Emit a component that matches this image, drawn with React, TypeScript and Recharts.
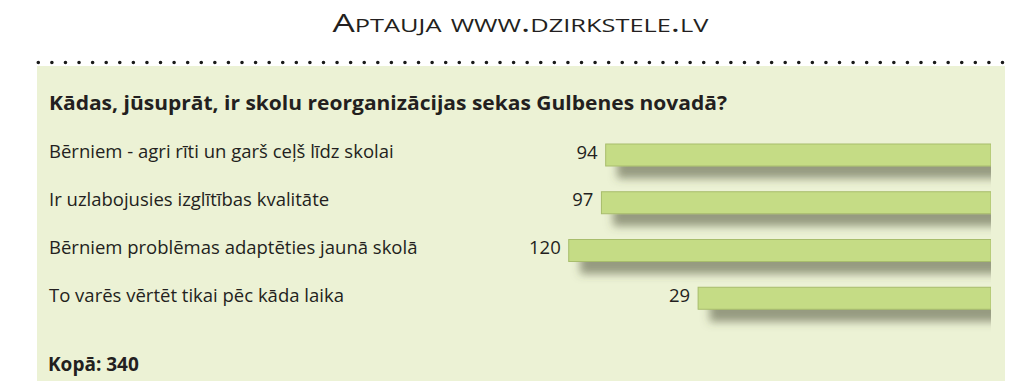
import React from "react";
import { BarChart, Bar, XAxis, YAxis, LabelList } from "recharts";

const title = "Aptauja www.dzirkstele.lv";
const question = "Kādas, jūsuprāt, ir skolu reorganizācijas sekas Gulbenes novadā?";
const categories = [
	"Bērniem - agri rīti un garš ceļš līdz skolai",
	"Ir uzlabojusies izglītības kvalitāte",
	"Bērniem problēmas adaptēties jaunā skolā",
	"To varēs vērtēt tikai pēc kāda laika",
];
const counts = [94, 97, 120, 29];
const totalLabel = "Kopā";
const total = 340;

// the printed bars don't start at zero, so the axis gets an offset base
const AXIS_BASE = -177;
const AXIS_MAX = 309;

const data = categories.map((name, i) => ({ name, count: counts[i] }));

const FONT = "'Open Sans', 'Noto Sans', sans-serif";

const CategoryTick = (props: any) => {
	const { y, payload } = props;
	return (
		<text x={49} y={y + 3.5} fill="#231f20" fontSize={18.5} fontFamily={FONT}>
			{payload.value}
		</text>
	);
};

const ValueLabel = (props: any) => {
	const { x, y, width, height, value } = props;
	const left = Math.min(x, x + width);
	return (
		<text
			x={left - 8}
			y={y + height / 2 + 3.5}
			textAnchor="end"
			fill="#231f20"
			fontSize={18.5}
			fontFamily={FONT}
		>
			{value}
		</text>
	);
};

const ShadowBar = (props: any) => {
	const { x, y, width, height, fill } = props;
	const left = Math.min(x, x + width);
	return (
		<rect
			x={left}
			y={y}
			width={Math.abs(width)}
			height={height}
			fill={fill}
			stroke="#a8bd6c"
			strokeWidth={1}
			filter="url(#barShadow)"
		/>
	);
};

export default function App() {
	return (
		<div
			style={{
				position: "absolute",
				left: 0,
				top: 0,
				width: 1024,
				height: 391,
				background: "#ffffff",
				overflow: "hidden",
			}}
		>
			<svg width={0} height={0} style={{ position: "absolute" }}>
				<defs>
					<filter id="barShadow" x="-10%" y="-60%" width="130%" height="320%">
						<feDropShadow
							dx={12}
							dy={12}
							stdDeviation={4}
							floodColor="#4f533b"
							floodOpacity={0.55}
						/>
					</filter>
				</defs>
			</svg>

			<div
				style={{
					position: "absolute",
					left: 37,
					top: 66,
					width: 968,
					height: 315,
					background: "#ecf2d5",
				}}
			/>

			<svg width={1024} height={391} style={{ position: "absolute", left: 0, top: 0 }}>
				<text
					x={520.5}
					y={32}
					textAnchor="middle"
					fontSize={25}
					fontFamily={FONT}
					fill="#231f20"
					style={{ fontVariant: "small-caps" }}
					textLength={376}
					lengthAdjust="spacingAndGlyphs"
				>
					{title}
				</text>
				<line
					x1={38.3}
					y1={62.5}
					x2={1003}
					y2={62.5}
					stroke="#1a1a1a"
					strokeWidth={3.6}
					strokeLinecap="round"
					strokeDasharray="0 13.58"
				/>
				<text
					x={49}
					y={110}
					fontSize={20}
					fontWeight={700}
					fontFamily={FONT}
					fill="#231f20"
					textLength={678}
					lengthAdjust="spacingAndGlyphs"
				>
					{question}
				</text>
				<text
					x={48}
					y={371}
					fontSize={19}
					fontWeight={700}
					fontFamily={FONT}
					fill="#231f20"
				>
					{`${totalLabel}: ${total}`}
				</text>
			</svg>

			<div style={{ position: "absolute", left: 0, top: 0 }}>
				<BarChart
					width={1024}
					height={391}
					data={data}
					layout="vertical"
					margin={{ top: 131, bottom: 69, left: 0, right: 33 }}
				>
					<XAxis
						type="number"
						domain={[AXIS_BASE, AXIS_MAX]}
						reversed
						allowDataOverflow
						hide
					/>
					<YAxis
						type="category"
						dataKey="name"
						width={300}
						axisLine={false}
						tickLine={false}
						tick={CategoryTick}
						interval={0}
					/>
					<Bar
						dataKey={(d: any) => [AXIS_BASE, d.count]}
						fill="#c5dc85"
						barSize={22}
						shape={ShadowBar}
						isAnimationActive={false}
					>
						<LabelList dataKey="count" content={ValueLabel} />
					</Bar>
				</BarChart>
			</div>
		</div>
	);
}
